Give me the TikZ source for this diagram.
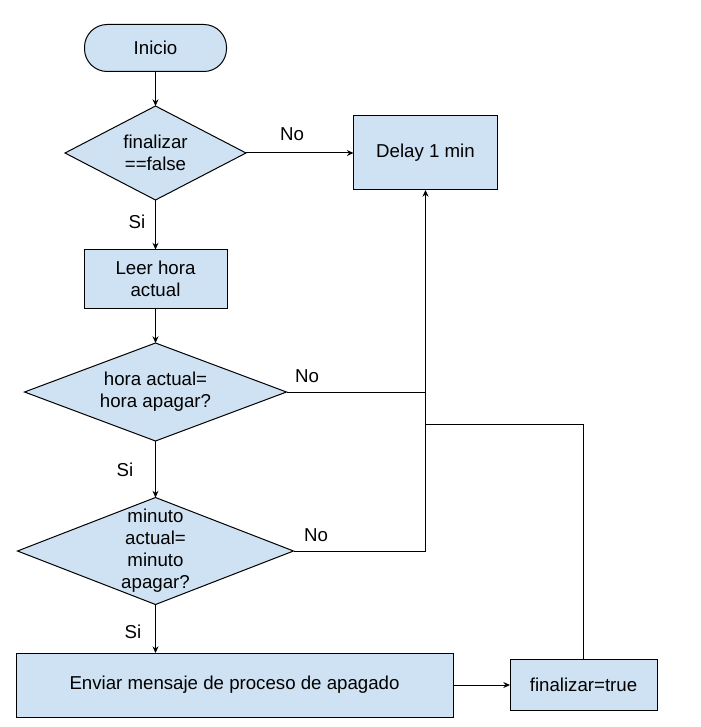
\documentclass[tikz,border=0pt]{standalone}
\usepackage{fontspec}
\setmainfont{Liberation Sans}
\usetikzlibrary{shapes.geometric,arrows.meta,calc}
\definecolor{boxblue}{HTML}{CFE2F3}
\tikzset{
  base/.style={draw=black, fill=boxblue, line width=0.75pt, inner sep=0pt, outer sep=0pt},
  proc/.style={base, rectangle, align=center},
  term/.style={base, rectangle, rounded corners=17pt, align=center},
  dec/.style={base, diamond},
  txt/.style={align=center, inner sep=0pt},
  lbl/.style={inner sep=0pt},
  conn/.style={line width=0.75pt, draw=black},
  arr/.style={conn, -{Stealth[length=5pt,width=4.5pt]}},
}
\begin{document}
\begin{tikzpicture}[x=0.75pt, y=-0.75pt, font=\fontsize{14}{16.5}\selectfont]
\useasboundingbox (0,0) rectangle (700,727);
% nodes
\node[term, minimum width=142*0.75pt, minimum height=47*0.75pt] (start) at (155.5,48) {Inicio};
\node[dec, minimum width=181*0.75pt, minimum height=94*0.75pt] (d1) at (155.5,153) {};
\node[txt] (d1t) at (155.5,153) {finalizar\\==false};
\node[proc, minimum width=144*0.75pt, minimum height=74*0.75pt] (delay) at (425.5,153) {Delay 1 min};
\node[proc, minimum width=143*0.75pt, minimum height=59*0.75pt] (leer) at (155.5,279) {Leer hora\\actual};
\node[dec, minimum width=262*0.75pt, minimum height=98*0.75pt] (d2) at (155.5,392) {};
\node[txt] (d2t) at (155.5,392) {hora actual=\\hora apagar?};
\node[dec, minimum width=276*0.75pt, minimum height=107*0.75pt] (d3) at (155.5,551) {};
\node[txt] (d3t) at (155.5,551) {minuto\\actual=\\minuto\\apagar?};
\node[proc, minimum width=437*0.75pt, minimum height=64*0.75pt] (enviar) at (234.5,685) {Enviar mensaje de proceso de apagado};
\node[proc, minimum width=147*0.75pt, minimum height=51*0.75pt] (fin) at (583.5,685) {finalizar=true};
\coordinate (j) at (delay.south |- 0,424);
% connectors
\draw[arr] (start.south) -- (d1.north);
\draw[arr] (d1.east) -- (delay.west);
\draw[arr] (d1.south) -- (leer.north);
\draw[arr] (leer.south) -- (d2.north);
\draw[arr] (d2.south) -- (d3.north);
\draw[arr] (d3.south) -- (d3.south |- enviar.north);
\draw[conn] (d2.east) -- (d2.east -| delay.south);
\draw[arr] (d3.east) -- (d3.east -| delay.south) -- (delay.south);
\draw[conn] (fin.north) -- (fin.north |- j) -- (j);
\draw[arr] (enviar.east) -- (fin.west);
% labels
\node[lbl] (l1) at (292,134) {No};
\node[lbl] (l2) at (137,222) {Si};
\node[lbl] (l3) at (307,376) {No};
\node[lbl] (l4) at (125,470) {Si};
\node[lbl] (l5) at (316,535) {No};
\node[lbl] (l6) at (133,632) {Si};
\end{tikzpicture}
\end{document}
